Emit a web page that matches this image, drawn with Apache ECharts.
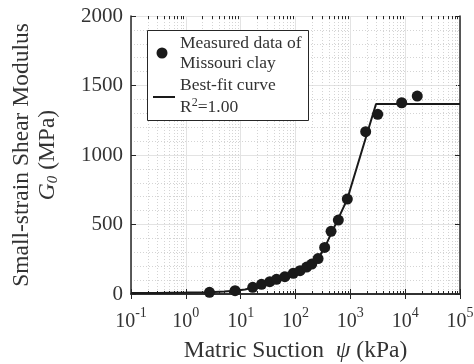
<!DOCTYPE html>
<html><head><meta charset="utf-8">
<script src="https://cdn.jsdelivr.net/npm/echarts@6/dist/echarts.min.js"></script>
<style>html,body{margin:0;padding:0;background:#fff}#c{width:474px;height:364px}</style>
</head><body><div id="c"></div>
<script>
// Measured data (suction kPa, G0 MPa)
const measuredSuction = [2.7, 7.9, 16.6, 24, 34, 45, 64, 91, 121, 160, 198, 258, 340, 445, 604, 881, 1905, 3160, 8650, 16600];
const measuredG0 = [12, 24, 48, 70, 89, 106, 125, 149, 168, 194, 215, 255, 335, 451, 532, 683, 1168, 1293, 1376, 1424];
// Best-fit curve
const fitSuction = [0.1, 0.3, 1, 2.7, 5, 7.9, 12, 16.6, 24, 34, 45, 64, 91, 121, 160, 200, 260, 340, 450, 600, 880, 1500, 2940, 100000];
const fitG0 = [7, 8, 10, 13, 18, 24, 33, 46, 66, 88, 105, 126, 148, 168, 193, 217, 258, 332, 438, 540, 683, 985, 1367, 1367];
// Axis ticks
const xDecadesMin = -1, xDecadesMax = 5;
const yTicks = [0, 500, 1000, 1500, 2000];

const FONT = '"Liberation Serif","DejaVu Serif",serif';
const TXT = '#333333';
const AX = '#262626';
const minorX = [];
for (let k = xDecadesMin; k < xDecadesMax; k++) for (let m = 2; m <= 9; m++) minorX.push(m * Math.pow(10, k));

const chart = echarts.init(document.getElementById('c'), null, {renderer: 'canvas'});
const xBase = {
  type: 'log', logBase: 10, min: Math.pow(10, xDecadesMin), max: Math.pow(10, xDecadesMax),
  axisLine: {show: true, lineStyle: {color: AX, width: 1.5}},
  axisTick: {show: true, inside: true, length: 5, lineStyle: {color: AX, width: 1}},
};
chart.setOption({
  animation: false,
  grid: {left: 131, top: 16, right: 14, bottom: 70, containLabel: false, outerBoundsMode: 'none'},
  xAxis: [
    Object.assign({}, xBase, {
      position: 'bottom',
      splitLine: {show: true, lineStyle: {color: '#e3e3e3', width: 1}},
      axisLabel: {
        margin: 12, color: TXT, fontFamily: FONT,
        formatter: v => '{b|10}{s|' + Math.round(Math.log10(v)) + '}',
        rich: {
          b: {fontSize: 20, fontFamily: FONT, color: TXT, verticalAlign: 'bottom', lineHeight: 26},
          s: {fontSize: 14, fontFamily: FONT, color: TXT, verticalAlign: 'top', lineHeight: 26, padding: [0, 0, 10, 0]}
        }
      },
      name: 'Matric Suction  {i|ψ} (kPa)', nameLocation: 'middle', nameGap: 45,
      nameTextStyle: {fontSize: 23.5, fontFamily: FONT, color: TXT,
        rich: {i: {fontSize: 23.5, fontFamily: FONT, fontStyle: 'italic', color: TXT}}}
    }),
    Object.assign({}, xBase, {position: 'top', axisLabel: {show: false}, splitLine: {show: false}})
  ],
  yAxis: [
    {
      type: 'value', min: yTicks[0], max: yTicks[yTicks.length - 1], interval: 500, position: 'left',
      axisLine: {show: true, lineStyle: {color: AX, width: 1.5}},
      axisTick: {show: true, inside: true, length: 5, lineStyle: {color: AX}},
      axisLabel: {margin: 8, fontSize: 21, fontFamily: FONT, color: TXT, formatter: v => String(v)},
      splitLine: {show: true, lineStyle: {color: '#e3e3e3', width: 1}},
      minorTick: {show: false, splitNumber: 5},
      minorSplitLine: {show: true, lineStyle: {color: '#d4d4d4', type: [1, 2], width: 1}},
      name: 'Small-strain Shear Modulus\n{i|G}{sub|0} (MPa)', nameLocation: 'middle', nameRotate: 90, nameGap: 70,
      nameTextStyle: {fontSize: 23.5, fontFamily: FONT, color: TXT, lineHeight: 26, align: 'center',
        rich: {
          i: {fontSize: 23.5, fontFamily: FONT, fontStyle: 'italic', color: TXT, lineHeight: 26},
          sub: {fontSize: 15, fontFamily: FONT, fontStyle: 'italic', color: TXT, verticalAlign: 'bottom', lineHeight: 26}
        }}
    },
    {
      type: 'value', min: yTicks[0], max: yTicks[yTicks.length - 1], interval: 500, position: 'right',
      axisLine: {show: true, lineStyle: {color: AX, width: 1.5}},
      axisTick: {show: true, inside: true, length: 5, lineStyle: {color: AX}},
      axisLabel: {show: false}, splitLine: {show: false}
    }
  ],
  series: [
    {
      type: 'custom', silent: true, z: 1, xAxisIndex: 0, yAxisIndex: 0,
      data: minorX.map(v => [v, 0]),
      renderItem: (params, api) => {
        const cs = params.coordSys;
        const x = Math.round(api.coord([api.value(0), 0])[0]) + 0.5;
        return {type: 'group', children: [
          {type: 'line', shape: {x1: x, y1: cs.y, x2: x, y2: cs.y + cs.height}, style: {stroke: '#d4d4d4', lineWidth: 1, lineDash: [1, 2]}},
          {type: 'line', shape: {x1: x, y1: cs.y + cs.height, x2: x, y2: cs.y + cs.height - 3}, style: {stroke: AX, lineWidth: 1}},
          {type: 'line', shape: {x1: x, y1: cs.y, x2: x, y2: cs.y + 3}, style: {stroke: AX, lineWidth: 1}}
        ]};
      }
    },
    {
      type: 'line', name: 'Best-fit curve', z: 3,
      data: fitSuction.map((x, i) => [x, fitG0[i]]),
      showSymbol: false, symbol: 'none',
      lineStyle: {color: '#1a1a1a', width: 2}
    },
    {
      type: 'scatter', name: 'Measured data of Missouri clay', z: 4,
      data: measuredSuction.map((x, i) => [x, measuredG0[i]]),
      symbol: 'circle', symbolSize: 11,
      itemStyle: {color: '#1a1a1a', opacity: 1}
    }
  ],
  graphic: [
    {type: 'rect', z: 100, shape: {x: 147.5, y: 30.5, width: 161, height: 90}, style: {fill: '#fff', stroke: AX, lineWidth: 1}},
    {type: 'circle', z: 101, shape: {cx: 162, cy: 53, r: 5.5}, style: {fill: '#1a1a1a'}},
    {type: 'line', z: 101, shape: {x1: 153, y1: 97, x2: 175, y2: 97}, style: {stroke: '#1a1a1a', lineWidth: 2}},
    {type: 'text', z: 101, x: 180, y: 43, style: {text: 'Measured data of', font: '17.5px ' + FONT, fill: TXT, verticalAlign: 'middle'}},
    {type: 'text', z: 101, x: 180, y: 63, style: {text: 'Missouri clay', font: '17.5px ' + FONT, fill: TXT, verticalAlign: 'middle'}},
    {type: 'text', z: 101, x: 180, y: 85, style: {text: 'Best-fit curve', font: '17.5px ' + FONT, fill: TXT, verticalAlign: 'middle'}},
    {type: 'text', z: 101, x: 180, y: 107, style: {text: 'R{s|2}=1.00', font: '17.5px ' + FONT, fill: TXT, verticalAlign: 'middle',
      rich: {s: {fontSize: 12, fontFamily: FONT, verticalAlign: 'top', padding: [0, 0, 8, 0], fill: TXT}}}}
  ]
});
</script></body></html>
